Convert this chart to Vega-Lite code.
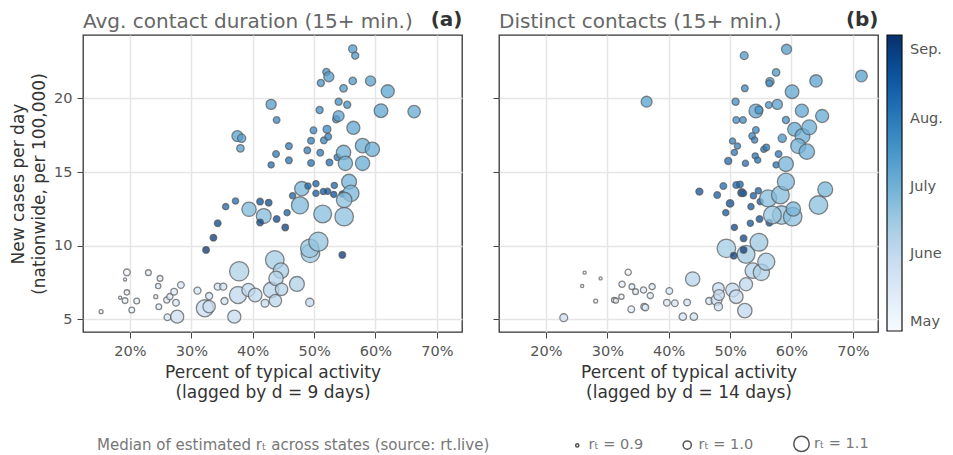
{
  "$schema": "https://vega.github.io/schema/vega-lite/v6.json",
  "padding": {"left": 8, "top": 8, "right": 0, "bottom": 0},
  "config": {
    "font": "DejaVu Sans",
    "view": {"stroke": "#333", "strokeWidth": 1.3},
    "axis": {"gridColor": "#e6e6e6", "gridWidth": 1.5, "domain": false, "tickColor": "#444", "tickSize": 6, "tickWidth": 1, "labelFontSize": 14.5, "labelColor": "#555", "labelPadding": 5, "titleFontSize": 17, "titleFontWeight": "normal", "titleColor": "#333", "titleLineHeight": 20},
    "title": {"fontSize": 20, "fontWeight": "normal", "color": "#666"}
  },
  "datasets": {
    "a": [
      {"x": 15.3, "y": 5.52, "rt": 0.91, "day": 122},
      {"x": 19.5, "y": 8.19, "rt": 0.96, "day": 125},
      {"x": 19.2, "y": 7.71, "rt": 0.90, "day": 123},
      {"x": 19.5, "y": 6.83, "rt": 0.93, "day": 126},
      {"x": 18.4, "y": 6.47, "rt": 0.90, "day": 124},
      {"x": 19.2, "y": 6.27, "rt": 0.94, "day": 127},
      {"x": 21.1, "y": 6.24, "rt": 0.94, "day": 129},
      {"x": 20.3, "y": 5.63, "rt": 0.94, "day": 128},
      {"x": 23.0, "y": 8.17, "rt": 0.94, "day": 131},
      {"x": 24.9, "y": 7.78, "rt": 0.94, "day": 132},
      {"x": 24.6, "y": 7.26, "rt": 0.93, "day": 133},
      {"x": 24.2, "y": 6.54, "rt": 0.91, "day": 130},
      {"x": 24.7, "y": 5.86, "rt": 0.94, "day": 134},
      {"x": 26.0, "y": 6.31, "rt": 0.95, "day": 135},
      {"x": 26.5, "y": 6.54, "rt": 0.95, "day": 136},
      {"x": 27.2, "y": 6.88, "rt": 0.96, "day": 137},
      {"x": 28.3, "y": 7.33, "rt": 0.96, "day": 138},
      {"x": 27.5, "y": 6.13, "rt": 0.96, "day": 139},
      {"x": 26.1, "y": 5.14, "rt": 0.96, "day": 140},
      {"x": 27.7, "y": 5.18, "rt": 1.06, "day": 147},
      {"x": 31.0, "y": 6.95, "rt": 0.97, "day": 141},
      {"x": 32.9, "y": 6.58, "rt": 0.97, "day": 142},
      {"x": 35.4, "y": 6.24, "rt": 0.97, "day": 143},
      {"x": 34.3, "y": 7.22, "rt": 0.97, "day": 144},
      {"x": 35.2, "y": 7.22, "rt": 0.97, "day": 145},
      {"x": 32.2, "y": 5.75, "rt": 1.12, "day": 149},
      {"x": 32.9, "y": 5.86, "rt": 1.05, "day": 148},
      {"x": 37.0, "y": 5.18, "rt": 1.06, "day": 150},
      {"x": 37.6, "y": 6.65, "rt": 1.12, "day": 154},
      {"x": 37.8, "y": 8.26, "rt": 1.15, "day": 162},
      {"x": 39.3, "y": 6.99, "rt": 1.06, "day": 153},
      {"x": 40.4, "y": 6.65, "rt": 1.07, "day": 155},
      {"x": 42.0, "y": 6.09, "rt": 0.99, "day": 151},
      {"x": 43.0, "y": 6.99, "rt": 1.10, "day": 157},
      {"x": 43.7, "y": 6.27, "rt": 1.05, "day": 156},
      {"x": 43.6, "y": 9.03, "rt": 1.14, "day": 166},
      {"x": 44.6, "y": 8.30, "rt": 1.10, "day": 164},
      {"x": 43.8, "y": 7.78, "rt": 1.08, "day": 159},
      {"x": 44.7, "y": 7.04, "rt": 1.05, "day": 158},
      {"x": 47.2, "y": 7.40, "rt": 1.09, "day": 161},
      {"x": 49.3, "y": 6.15, "rt": 1.00, "day": 152},
      {"x": 49.4, "y": 9.48, "rt": 1.14, "day": 169},
      {"x": 49.3, "y": 9.82, "rt": 1.14, "day": 170},
      {"x": 50.7, "y": 10.27, "rt": 1.15, "day": 172},
      {"x": 54.6, "y": 9.37, "rt": 0.96, "day": 249},
      {"x": 32.4, "y": 9.71, "rt": 0.96, "day": 250},
      {"x": 33.6, "y": 10.54, "rt": 0.96, "day": 247},
      {"x": 34.3, "y": 11.52, "rt": 0.96, "day": 242},
      {"x": 35.6, "y": 12.65, "rt": 0.95, "day": 224},
      {"x": 37.2, "y": 13.03, "rt": 0.95, "day": 222},
      {"x": 39.4, "y": 12.47, "rt": 1.08, "day": 178},
      {"x": 41.2, "y": 12.99, "rt": 0.96, "day": 236},
      {"x": 42.6, "y": 12.92, "rt": 0.96, "day": 239},
      {"x": 41.8, "y": 12.01, "rt": 1.09, "day": 177},
      {"x": 41.2, "y": 11.58, "rt": 0.96, "day": 243},
      {"x": 43.9, "y": 11.81, "rt": 0.96, "day": 241},
      {"x": 45.6, "y": 12.24, "rt": 0.95, "day": 228},
      {"x": 45.3, "y": 11.24, "rt": 0.96, "day": 245},
      {"x": 46.5, "y": 13.39, "rt": 0.95, "day": 226},
      {"x": 48.0, "y": 13.87, "rt": 1.08, "day": 180},
      {"x": 47.7, "y": 12.74, "rt": 1.12, "day": 179},
      {"x": 49.0, "y": 14.05, "rt": 0.95, "day": 225},
      {"x": 50.3, "y": 14.21, "rt": 0.95, "day": 227},
      {"x": 50.3, "y": 13.55, "rt": 0.95, "day": 229},
      {"x": 51.5, "y": 13.67, "rt": 0.95, "day": 231},
      {"x": 52.2, "y": 13.69, "rt": 0.95, "day": 233},
      {"x": 53.3, "y": 14.09, "rt": 0.95, "day": 223},
      {"x": 53.2, "y": 13.48, "rt": 0.95, "day": 235},
      {"x": 54.6, "y": 13.51, "rt": 0.95, "day": 237},
      {"x": 51.4, "y": 12.15, "rt": 1.13, "day": 176},
      {"x": 55.7, "y": 14.34, "rt": 1.09, "day": 182},
      {"x": 56.0, "y": 13.55, "rt": 1.11, "day": 181},
      {"x": 54.9, "y": 13.10, "rt": 1.10, "day": 175},
      {"x": 54.9, "y": 11.97, "rt": 1.14, "day": 174},
      {"x": 37.5, "y": 17.44, "rt": 1.03, "day": 193},
      {"x": 38.2, "y": 17.29, "rt": 1.00, "day": 194},
      {"x": 38.0, "y": 16.61, "rt": 0.98, "day": 195},
      {"x": 43.0, "y": 19.59, "rt": 1.02, "day": 196},
      {"x": 43.9, "y": 18.53, "rt": 0.96, "day": 208},
      {"x": 43.8, "y": 16.22, "rt": 0.96, "day": 215},
      {"x": 45.9, "y": 16.76, "rt": 0.96, "day": 212},
      {"x": 45.9, "y": 15.79, "rt": 0.96, "day": 217},
      {"x": 43.0, "y": 15.48, "rt": 0.95, "day": 221},
      {"x": 48.9, "y": 16.47, "rt": 0.96, "day": 213},
      {"x": 49.5, "y": 17.13, "rt": 0.96, "day": 211},
      {"x": 49.9, "y": 17.83, "rt": 0.96, "day": 207},
      {"x": 51.0, "y": 16.31, "rt": 0.96, "day": 214},
      {"x": 49.5, "y": 15.61, "rt": 0.96, "day": 218},
      {"x": 51.6, "y": 17.15, "rt": 0.96, "day": 209},
      {"x": 52.3, "y": 17.40, "rt": 0.96, "day": 210},
      {"x": 52.1, "y": 17.90, "rt": 0.99, "day": 206},
      {"x": 50.9, "y": 19.21, "rt": 0.97, "day": 204},
      {"x": 52.5, "y": 15.65, "rt": 0.96, "day": 220},
      {"x": 53.8, "y": 16.00, "rt": 0.96, "day": 216},
      {"x": 54.8, "y": 16.33, "rt": 1.08, "day": 184},
      {"x": 55.1, "y": 15.59, "rt": 1.08, "day": 183},
      {"x": 57.9, "y": 16.79, "rt": 1.08, "day": 185},
      {"x": 59.5, "y": 16.54, "rt": 1.08, "day": 186},
      {"x": 57.9, "y": 15.59, "rt": 1.08, "day": 187},
      {"x": 56.4, "y": 18.00, "rt": 1.06, "day": 189},
      {"x": 53.6, "y": 18.58, "rt": 0.97, "day": 205},
      {"x": 54.0, "y": 18.80, "rt": 1.03, "day": 192},
      {"x": 54.0, "y": 19.77, "rt": 0.97, "day": 202},
      {"x": 55.4, "y": 19.57, "rt": 0.97, "day": 203},
      {"x": 51.1, "y": 21.04, "rt": 0.97, "day": 201},
      {"x": 52.0, "y": 21.79, "rt": 0.97, "day": 200},
      {"x": 52.4, "y": 21.47, "rt": 1.02, "day": 195},
      {"x": 54.8, "y": 20.68, "rt": 0.98, "day": 197},
      {"x": 56.3, "y": 21.18, "rt": 0.98, "day": 198},
      {"x": 56.3, "y": 23.35, "rt": 1.00, "day": 197},
      {"x": 56.7, "y": 22.90, "rt": 0.97, "day": 199},
      {"x": 59.2, "y": 21.18, "rt": 1.02, "day": 193},
      {"x": 62.0, "y": 20.48, "rt": 1.06, "day": 191},
      {"x": 60.9, "y": 19.16, "rt": 1.07, "day": 190},
      {"x": 66.3, "y": 19.10, "rt": 1.05, "day": 188}
    ],
    "b": [
      {"x": 22.9, "y": 5.11, "rt": 0.99, "day": 147},
      {"x": 26.3, "y": 8.17, "rt": 0.90, "day": 124},
      {"x": 25.9, "y": 7.26, "rt": 0.90, "day": 122},
      {"x": 28.9, "y": 7.78, "rt": 0.90, "day": 126},
      {"x": 28.1, "y": 6.24, "rt": 0.91, "day": 123},
      {"x": 31.1, "y": 6.31, "rt": 0.93, "day": 128},
      {"x": 31.4, "y": 6.27, "rt": 0.93, "day": 127},
      {"x": 32.3, "y": 6.54, "rt": 0.93, "day": 129},
      {"x": 33.4, "y": 8.19, "rt": 0.95, "day": 125},
      {"x": 32.4, "y": 7.38, "rt": 0.95, "day": 130},
      {"x": 33.9, "y": 5.68, "rt": 0.96, "day": 133},
      {"x": 34.0, "y": 7.22, "rt": 0.94, "day": 131},
      {"x": 34.6, "y": 6.88, "rt": 0.94, "day": 132},
      {"x": 35.9, "y": 6.99, "rt": 0.95, "day": 134},
      {"x": 37.0, "y": 6.61, "rt": 0.95, "day": 135},
      {"x": 37.3, "y": 7.22, "rt": 0.95, "day": 136},
      {"x": 36.0, "y": 5.86, "rt": 0.96, "day": 137},
      {"x": 36.2, "y": 5.81, "rt": 0.96, "day": 138},
      {"x": 40.1, "y": 6.92, "rt": 0.96, "day": 141},
      {"x": 39.7, "y": 6.13, "rt": 0.96, "day": 139},
      {"x": 41.0, "y": 6.09, "rt": 0.96, "day": 140},
      {"x": 43.0, "y": 6.15, "rt": 0.96, "day": 143},
      {"x": 42.3, "y": 5.18, "rt": 0.98, "day": 144},
      {"x": 44.1, "y": 5.18, "rt": 0.98, "day": 145},
      {"x": 43.9, "y": 7.74, "rt": 1.08, "day": 158},
      {"x": 46.6, "y": 6.24, "rt": 0.97, "day": 142},
      {"x": 47.8, "y": 6.31, "rt": 1.03, "day": 149},
      {"x": 48.1, "y": 7.10, "rt": 1.04, "day": 151},
      {"x": 48.2, "y": 6.65, "rt": 1.03, "day": 150},
      {"x": 48.1, "y": 5.86, "rt": 1.00, "day": 148},
      {"x": 50.4, "y": 6.99, "rt": 1.07, "day": 153},
      {"x": 51.0, "y": 6.54, "rt": 1.07, "day": 152},
      {"x": 52.4, "y": 5.59, "rt": 1.08, "day": 154},
      {"x": 52.6, "y": 7.38, "rt": 1.06, "day": 155},
      {"x": 53.7, "y": 8.30, "rt": 1.10, "day": 160},
      {"x": 55.1, "y": 8.19, "rt": 1.11, "day": 162},
      {"x": 55.9, "y": 8.91, "rt": 1.12, "day": 164},
      {"x": 52.6, "y": 9.41, "rt": 1.13, "day": 167},
      {"x": 49.4, "y": 9.82, "rt": 1.14, "day": 166},
      {"x": 54.7, "y": 10.23, "rt": 1.13, "day": 169},
      {"x": 50.6, "y": 9.32, "rt": 0.96, "day": 248},
      {"x": 52.2, "y": 9.71, "rt": 0.96, "day": 246},
      {"x": 52.2, "y": 10.50, "rt": 0.96, "day": 243},
      {"x": 50.7, "y": 11.24, "rt": 0.95, "day": 240},
      {"x": 53.3, "y": 11.52, "rt": 0.95, "day": 233},
      {"x": 54.8, "y": 11.81, "rt": 0.96, "day": 238},
      {"x": 56.4, "y": 11.56, "rt": 0.96, "day": 239},
      {"x": 49.3, "y": 12.24, "rt": 0.95, "day": 232},
      {"x": 50.0, "y": 12.87, "rt": 0.98, "day": 237},
      {"x": 53.4, "y": 12.65, "rt": 0.95, "day": 231},
      {"x": 54.9, "y": 12.99, "rt": 0.95, "day": 230},
      {"x": 53.8, "y": 13.39, "rt": 0.95, "day": 228},
      {"x": 54.6, "y": 13.73, "rt": 0.95, "day": 227},
      {"x": 48.9, "y": 14.05, "rt": 0.96, "day": 223},
      {"x": 47.9, "y": 13.44, "rt": 0.96, "day": 229},
      {"x": 45.0, "y": 13.67, "rt": 0.97, "day": 235},
      {"x": 51.0, "y": 14.12, "rt": 0.96, "day": 224},
      {"x": 51.6, "y": 14.16, "rt": 0.96, "day": 225},
      {"x": 51.9, "y": 13.60, "rt": 0.99, "day": 252},
      {"x": 52.2, "y": 13.55, "rt": 0.95, "day": 226},
      {"x": 56.2, "y": 13.21, "rt": 1.12, "day": 176},
      {"x": 58.2, "y": 13.44, "rt": 1.13, "day": 177},
      {"x": 59.1, "y": 14.34, "rt": 1.12, "day": 179},
      {"x": 58.4, "y": 12.08, "rt": 1.14, "day": 173},
      {"x": 60.2, "y": 11.97, "rt": 1.14, "day": 174},
      {"x": 60.3, "y": 12.49, "rt": 1.08, "day": 180},
      {"x": 56.9, "y": 12.08, "rt": 1.13, "day": 171},
      {"x": 65.5, "y": 13.82, "rt": 1.09, "day": 181},
      {"x": 64.4, "y": 12.76, "rt": 1.14, "day": 175},
      {"x": 36.4, "y": 19.77, "rt": 1.03, "day": 193},
      {"x": 49.7, "y": 15.75, "rt": 0.97, "day": 222},
      {"x": 50.4, "y": 17.10, "rt": 0.95, "day": 211},
      {"x": 51.2, "y": 16.76, "rt": 0.95, "day": 212},
      {"x": 50.7, "y": 16.33, "rt": 0.95, "day": 215},
      {"x": 52.5, "y": 15.59, "rt": 0.95, "day": 220},
      {"x": 54.1, "y": 16.09, "rt": 0.95, "day": 217},
      {"x": 54.5, "y": 15.81, "rt": 0.95, "day": 218},
      {"x": 53.6, "y": 17.44, "rt": 0.96, "day": 209},
      {"x": 54.0, "y": 17.17, "rt": 0.95, "day": 210},
      {"x": 54.2, "y": 17.85, "rt": 0.96, "day": 208},
      {"x": 55.5, "y": 16.54, "rt": 0.95, "day": 213},
      {"x": 55.9, "y": 16.67, "rt": 0.96, "day": 214},
      {"x": 57.9, "y": 16.22, "rt": 0.96, "day": 216},
      {"x": 57.5, "y": 15.48, "rt": 0.95, "day": 219},
      {"x": 59.1, "y": 15.54, "rt": 1.09, "day": 182},
      {"x": 58.5, "y": 17.29, "rt": 1.00, "day": 201},
      {"x": 60.5, "y": 17.90, "rt": 1.07, "day": 187},
      {"x": 61.8, "y": 17.44, "rt": 1.09, "day": 185},
      {"x": 61.1, "y": 16.76, "rt": 1.09, "day": 183},
      {"x": 62.5, "y": 16.38, "rt": 1.10, "day": 184},
      {"x": 62.9, "y": 18.03, "rt": 1.09, "day": 186},
      {"x": 65.0, "y": 18.80, "rt": 1.06, "day": 188},
      {"x": 61.7, "y": 19.16, "rt": 1.06, "day": 189},
      {"x": 59.1, "y": 18.53, "rt": 0.97, "day": 203},
      {"x": 57.7, "y": 19.59, "rt": 1.02, "day": 194},
      {"x": 56.3, "y": 19.55, "rt": 0.96, "day": 199},
      {"x": 54.2, "y": 19.14, "rt": 1.07, "day": 191},
      {"x": 54.7, "y": 19.21, "rt": 0.99, "day": 200},
      {"x": 51.0, "y": 18.53, "rt": 0.96, "day": 205},
      {"x": 52.1, "y": 18.53, "rt": 0.96, "day": 206},
      {"x": 50.9, "y": 19.77, "rt": 0.97, "day": 204},
      {"x": 52.4, "y": 20.68, "rt": 0.96, "day": 207},
      {"x": 56.5, "y": 21.13, "rt": 1.00, "day": 195},
      {"x": 56.4, "y": 21.02, "rt": 0.96, "day": 202},
      {"x": 57.5, "y": 21.76, "rt": 0.98, "day": 197},
      {"x": 60.1, "y": 20.45, "rt": 1.07, "day": 190},
      {"x": 64.0, "y": 21.18, "rt": 1.05, "day": 192},
      {"x": 71.4, "y": 21.52, "rt": 1.04, "day": 193},
      {"x": 59.2, "y": 23.33, "rt": 1.02, "day": 196},
      {"x": 52.3, "y": 22.90, "rt": 0.99, "day": 198}
    ]
  },
  "spacing": 28,
  "resolve": {"scale": {"color": "shared", "size": "shared"}, "legend": {"color": "shared", "size": "shared"}},
  "hconcat": [
    {
      "width": 379,
      "height": 297,
      "data": {"name": "a"},
      "title": {"text": "Avg. contact duration (15+ min.)", "anchor": "start", "frame": "group", "offset": -23},
      "resolve": {"axis": {"x": "independent"}},
      "layer": [
        {
          "mark": {"type": "circle", "fillOpacity": 0.75, "strokeOpacity": 0.7, "stroke": "#555", "strokeWidth": 1.3},
          "encoding": {
            "x": {"field": "x", "type": "quantitative", "scale": {"domain": [12.35, 74.1], "nice": false, "zero": false},
                  "axis": {"values": [20, 30, 40, 50, 60, 70], "labelExpr": "datum.value + '%'", "title": ["Percent of typical activity", "(lagged by d = 9 days)"], "titlePadding": 7, "labelPadding": 6}},
            "y": {"field": "y", "type": "quantitative", "scale": {"domain": [4.14, 24.3], "nice": false, "zero": false},
                  "axis": {"values": [5, 10, 15, 20], "title": ["New cases per day", "(nationwide, per 100,000)"], "titlePadding": 5, "titleLineHeight": 21}},
            "color": {"field": "day", "type": "quantitative",
                      "scale": {"domain": [118, 134.75, 151.5, 168.25, 185, 201.75, 218.5, 235.25, 252], "range": ["#f7fbff", "#deebf7", "#c6dbef", "#9ecae1", "#6baed6", "#4292c6", "#2171b5", "#08519c", "#08306b"], "interpolate": "rgb"},
                      "legend": {"orient": "none", "legendX": 804, "legendY": 0, "direction": "vertical", "title": null, "gradientLength": 296, "gradientThickness": 15, "gradientStrokeColor": "#111", "gradientStrokeWidth": 1.2, "labelFontSize": 14.5, "labelColor": "#555", "labelOffset": 8, "labelOverlap": false,
                                 "values": [122, 153, 183, 214, 245],
                                 "labelExpr": "datum.value < 140 ? 'May' : datum.value < 170 ? 'June' : datum.value < 200 ? 'July' : datum.value < 230 ? 'Aug.' : 'Sep.'",
                                 "encode": {"gradient": {"update": {"opacity": {"value": 1}}}}}},
            "size": {"field": "rt", "type": "quantitative",
                     "scale": {"domain": [0.85, 0.9, 1.0, 1.1, 1.2], "range": [4, 10, 68, 240, 500]},
                     "legend": {"orient": "none", "legendX": 14, "legendY": 400, "direction": "horizontal", "values": [0.9, 1.0, 1.1], "title": "Median of estimated rₜ across states (source: rt.live)", "titleOrient": "left", "titleFontSize": 15, "titleColor": "#777", "titleFontWeight": "normal", "titleLimit": 600, "titlePadding": 80, "labelExpr": "'rₜ = ' + format(datum.value, '.1f')", "labelFontSize": 14.5, "labelColor": "#777", "symbolType": "circle", "symbolFillColor": "transparent", "symbolStrokeColor": "#555", "symbolStrokeWidth": 1.5, "symbolOpacity": 1, "columnPadding": 36}}
          }
        },
        {
          "mark": {"type": "circle", "opacity": 0},
          "encoding": {
            "x": {"field": "x", "type": "quantitative", "scale": {"domain": [12.35, 74.1], "nice": false, "zero": false},
                  "axis": {"orient": "top", "title": "(a)", "titleAnchor": "end", "titleFontWeight": "bold", "titleFontSize": 20, "titleColor": "#333", "labels": false, "ticks": false, "domain": false, "grid": false, "titlePadding": 6}},
            "y": {"field": "y", "type": "quantitative", "scale": {"domain": [4.14, 24.3], "nice": false, "zero": false}}
          }
        }
      ]
    },
    {
      "width": 379,
      "height": 297,
      "data": {"name": "b"},
      "title": {"text": "Distinct contacts (15+ min.)", "anchor": "start", "frame": "group", "offset": -23},
      "resolve": {"axis": {"x": "independent"}},
      "layer": [
        {
          "mark": {"type": "circle", "fillOpacity": 0.75, "strokeOpacity": 0.7, "stroke": "#555", "strokeWidth": 1.3},
          "encoding": {
            "x": {"field": "x", "type": "quantitative", "scale": {"domain": [12.35, 74.1], "nice": false, "zero": false},
                  "axis": {"values": [20, 30, 40, 50, 60, 70], "labelExpr": "datum.value + '%'", "title": ["Percent of typical activity", "(lagged by d = 14 days)"], "titlePadding": 7, "labelPadding": 6}},
            "y": {"field": "y", "type": "quantitative", "scale": {"domain": [4.14, 24.3], "nice": false, "zero": false},
                  "axis": {"values": [5, 10, 15, 20], "labels": false, "title": null}},
            "color": {"field": "day", "type": "quantitative",
                      "scale": {"domain": [118, 134.75, 151.5, 168.25, 185, 201.75, 218.5, 235.25, 252], "range": ["#f7fbff", "#deebf7", "#c6dbef", "#9ecae1", "#6baed6", "#4292c6", "#2171b5", "#08519c", "#08306b"], "interpolate": "rgb"},
                      "legend": {"orient": "none", "legendX": 804, "legendY": 0, "direction": "vertical", "title": null, "gradientLength": 296, "gradientThickness": 15, "gradientStrokeColor": "#111", "gradientStrokeWidth": 1.2, "labelFontSize": 14.5, "labelColor": "#555", "labelOffset": 8, "labelOverlap": false,
                                 "values": [122, 153, 183, 214, 245],
                                 "labelExpr": "datum.value < 140 ? 'May' : datum.value < 170 ? 'June' : datum.value < 200 ? 'July' : datum.value < 230 ? 'Aug.' : 'Sep.'",
                                 "encode": {"gradient": {"update": {"opacity": {"value": 1}}}}}},
            "size": {"field": "rt", "type": "quantitative",
                     "scale": {"domain": [0.85, 0.9, 1.0, 1.1, 1.2], "range": [4, 10, 68, 240, 500]},
                     "legend": {"orient": "none", "legendX": 14, "legendY": 400, "direction": "horizontal", "values": [0.9, 1.0, 1.1], "title": "Median of estimated rₜ across states (source: rt.live)", "titleOrient": "left", "titleFontSize": 15, "titleColor": "#777", "titleFontWeight": "normal", "titleLimit": 600, "titlePadding": 80, "labelExpr": "'rₜ = ' + format(datum.value, '.1f')", "labelFontSize": 14.5, "labelColor": "#777", "symbolType": "circle", "symbolFillColor": "transparent", "symbolStrokeColor": "#555", "symbolStrokeWidth": 1.5, "symbolOpacity": 1, "columnPadding": 36}}
          }
        },
        {
          "mark": {"type": "circle", "opacity": 0},
          "encoding": {
            "x": {"field": "x", "type": "quantitative", "scale": {"domain": [12.35, 74.1], "nice": false, "zero": false},
                  "axis": {"orient": "top", "title": "(b)", "titleAnchor": "end", "titleFontWeight": "bold", "titleFontSize": 20, "titleColor": "#333", "labels": false, "ticks": false, "domain": false, "grid": false, "titlePadding": 6}},
            "y": {"field": "y", "type": "quantitative", "scale": {"domain": [4.14, 24.3], "nice": false, "zero": false}}
          }
        }
      ]
    }
  ]
}
